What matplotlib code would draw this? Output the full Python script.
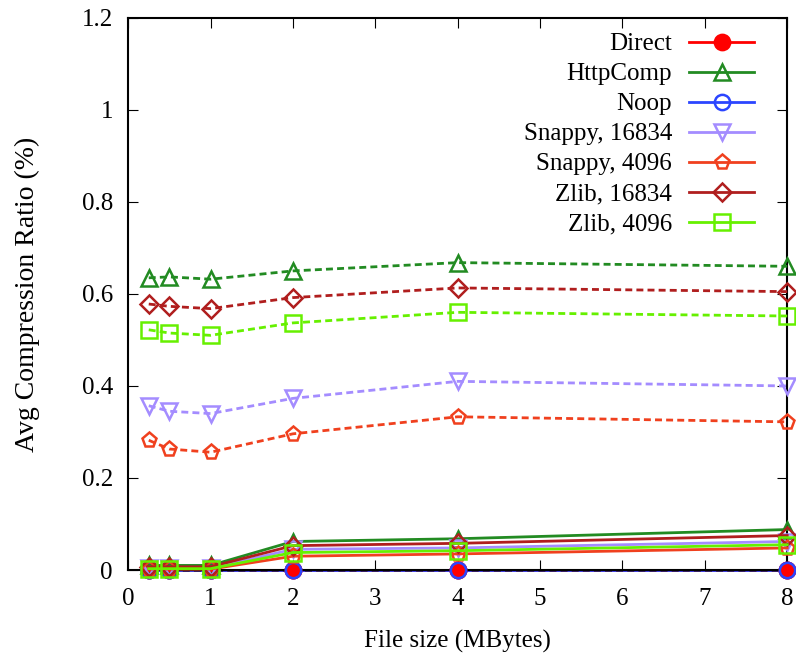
import numpy as np
import matplotlib
matplotlib.use("Agg")
import matplotlib.pyplot as plt

plt.rcParams['font.family'] = ['Liberation Serif', 'DejaVu Serif']

sizes = [0.25, 0.5, 1, 2, 4, 8]

names = ["Direct", "HttpComp", "Noop", "Snappy, 16834", "Snappy, 4096",
         "Zlib, 16834", "Zlib, 4096"]

# average compression ratio (dashed)
ratio = {
    "Direct":        [0, 0, 0, 0, 0, 0],
    "HttpComp":      [0.635, 0.637, 0.632, 0.650, 0.668, 0.660],
    "Noop":          [0, 0, 0, 0, 0, 0],
    "Snappy, 16834": [0.357, 0.345, 0.340, 0.373, 0.410, 0.400],
    "Snappy, 4096":  [0.282, 0.263, 0.256, 0.296, 0.333, 0.322],
    "Zlib, 16834":   [0.578, 0.573, 0.568, 0.592, 0.613, 0.605],
    "Zlib, 4096":    [0.522, 0.515, 0.510, 0.537, 0.560, 0.552],
}

# second measurement (solid lines near zero)
low = {
    "Direct":        [0, 0, 0, 0, 0, 0],
    "HttpComp":      [0.010, 0.010, 0.010, 0.062, 0.068, 0.088],
    "Noop":          [0, 0, 0, 0, 0, 0],
    "Snappy, 16834": [0.004, 0.004, 0.004, 0.045, 0.048, 0.062],
    "Snappy, 4096":  [0.002, 0.002, 0.002, 0.030, 0.035, 0.048],
    "Zlib, 16834":   [0.007, 0.007, 0.007, 0.053, 0.058, 0.075],
    "Zlib, 4096":    [0.003, 0.003, 0.003, 0.038, 0.042, 0.055],
}

colors = {
    "Direct": "#ff0000",
    "HttpComp": "#228b22",
    "Noop": "#2b45ff",
    "Snappy, 16834": "#a48cff",
    "Snappy, 4096": "#f0401e",
    "Zlib, 16834": "#b01e1e",
    "Zlib, 4096": "#66f000",
}
markers = {
    "Direct": "o", "HttpComp": "^", "Noop": "o", "Snappy, 16834": "v",
    "Snappy, 4096": "p", "Zlib, 16834": "D", "Zlib, 4096": "s",
}

fig = plt.figure(figsize=(7.96, 6.59), dpi=100)
ax = fig.add_axes([0.161, 0.135, 0.828, 0.838])

for n in names:
    c = colors[n]
    face = c if n == "Direct" else "none"
    ms = 9 if markers[n] == "D" else 11
    zero = n in ("Direct", "Noop")
    # solid lines (second metric)
    ax.plot(sizes, low[n], color=c, lw=2, marker=markers[n], ms=ms,
            mfc=face, mec=c, mew=1.8, label=n, clip_on=False,
            zorder=2 if zero else 3)
    if zero:
        # markers again on top of the dashed zero line
        ax.plot(sizes, low[n], ls="none", marker=markers[n], ms=ms,
                mfc=face, mec=c, mew=1.8, clip_on=False, zorder=2.8)
    else:
        # dashed lines (compression ratio)
        ax.plot(sizes, ratio[n], color=c, lw=2, ls=(0, (2.5, 1.5)),
                marker=markers[n], ms=ms, mfc="none", mec=c, mew=1.8,
                clip_on=False, zorder=3)

# dashed zero line for Direct/Noop
ax.plot(sizes, ratio["Noop"], color="#3a1f5a", lw=2, ls=(0, (2.5, 1.5)),
        zorder=2.5, clip_on=False)

ax.set_xlim(0, 8)
ax.set_ylim(0, 1.2)
ax.set_xticks(range(0, 9))
ax.set_yticks([0, 0.2, 0.4, 0.6, 0.8, 1, 1.2])
ax.set_yticklabels(["0", "0.2", "0.4", "0.6", "0.8", "1", "1.2"])
ax.tick_params(direction="in", top=True, right=True, length=7, labelsize=18)
ax.tick_params(axis="y", pad=11)
ax.tick_params(axis="x", pad=13)
ax.set_xlabel("File size (MBytes)", fontsize=18, labelpad=14)
ax.set_ylabel("Avg Compression Ratio (%)", fontsize=20, labelpad=30)
for s in ax.spines.values():
    s.set_linewidth(1.5)

leg = ax.legend(loc="upper right", bbox_to_anchor=(0.973, 1.0), frameon=False,
                markerfirst=False, fontsize=18, handlelength=2.6,
                labelspacing=0.3, borderaxespad=0.2, handletextpad=0.7)

fig.savefig("out.png", dpi=100)
